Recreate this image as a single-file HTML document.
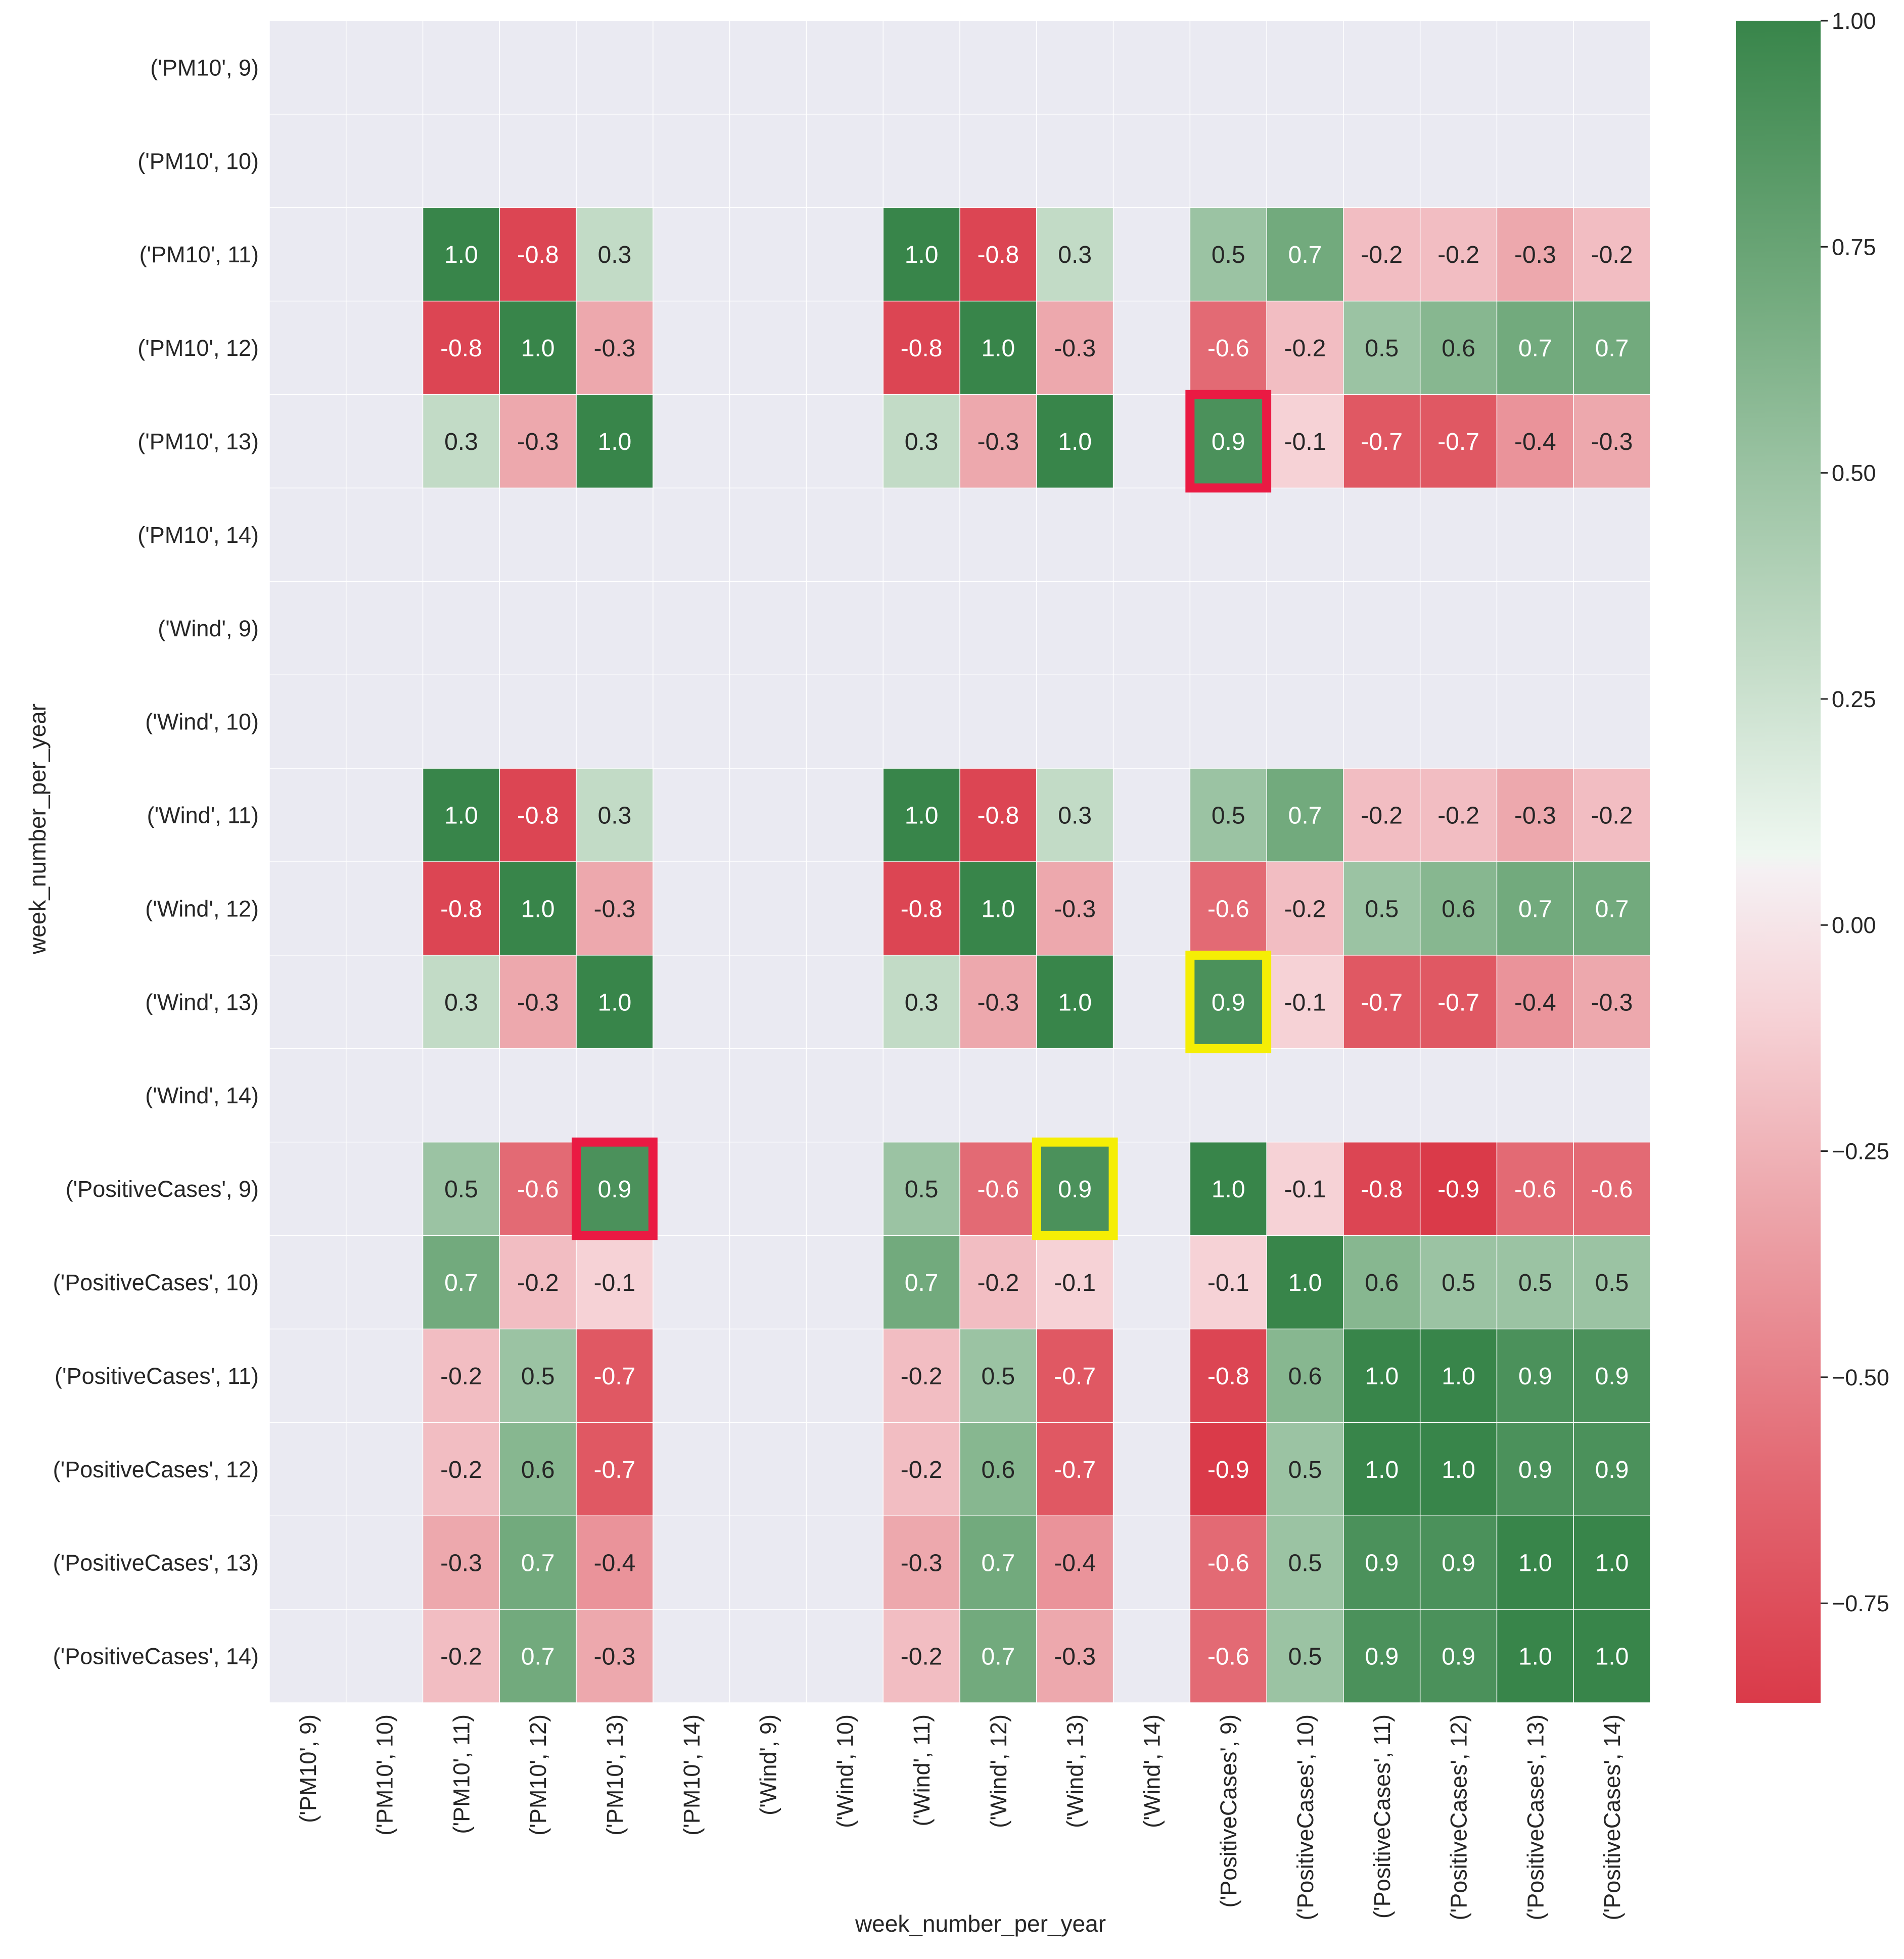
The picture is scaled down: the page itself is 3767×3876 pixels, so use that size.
<!DOCTYPE html>
<html><head><meta charset="utf-8"><style>
html,body{margin:0;padding:0;background:#fff;}
svg{display:block;font-family:"Liberation Sans",Arial,sans-serif;}
</style></head><body>
<svg id="chart" width="3767" height="3876" viewBox="0 0 3767 3876" xmlns="http://www.w3.org/2000/svg">
<g id="cells"></g>
<g id="annot"></g>
<g id="hl"></g>
<g id="ylab"></g>
<g id="xlab"></g>
<text x="0" y="0" font-size="46" fill="#262626" text-anchor="middle" transform="translate(90,1640) rotate(-90)">week_number_per_year</text>
<text x="1940" y="3822" font-size="46" fill="#262626" text-anchor="middle">week_number_per_year</text>
<defs><linearGradient id="cbgrad" x1="0" y1="1" x2="0" y2="0"></linearGradient></defs>
<rect x="3435" y="41" width="167" height="3328" fill="url(#cbgrad)"/>
<g id="cbticks"></g>
</svg>
<script>
const labels = ["('PM10', 9)","('PM10', 10)","('PM10', 11)","('PM10', 12)","('PM10', 13)","('PM10', 14)","('Wind', 9)","('Wind', 10)","('Wind', 11)","('Wind', 12)","('Wind', 13)","('Wind', 14)","('PositiveCases', 9)","('PositiveCases', 10)","('PositiveCases', 11)","('PositiveCases', 12)","('PositiveCases', 13)","('PositiveCases', 14)"];
const validIdx = [2,3,4,8,9,10,12,13,14,15,16,17];
const rowPM11 = [1.0,-0.8,0.3,1.0,-0.8,0.3,0.5,0.7,-0.2,-0.2,-0.3,-0.2];
const rowPM12 = [-0.8,1.0,-0.3,-0.8,1.0,-0.3,-0.6,-0.2,0.5,0.6,0.7,0.7];
const rowPM13 = [0.3,-0.3,1.0,0.3,-0.3,1.0,0.9,-0.1,-0.7,-0.7,-0.4,-0.3];
const rowW11 = [1.0,-0.8,0.3,1.0,-0.8,0.3,0.5,0.7,-0.2,-0.2,-0.3,-0.2];
const rowW12 = [-0.8,1.0,-0.3,-0.8,1.0,-0.3,-0.6,-0.2,0.5,0.6,0.7,0.7];
const rowW13 = [0.3,-0.3,1.0,0.3,-0.3,1.0,0.9,-0.1,-0.7,-0.7,-0.4,-0.3];
const rowPC9 = [0.5,-0.6,0.9,0.5,-0.6,0.9,1.0,-0.1,-0.8,-0.9,-0.6,-0.6];
const rowPC10 = [0.7,-0.2,-0.1,0.7,-0.2,-0.1,-0.1,1.0,0.6,0.5,0.5,0.5];
const rowPC11 = [-0.2,0.5,-0.7,-0.2,0.5,-0.7,-0.8,0.6,1.0,1.0,0.9,0.9];
const rowPC12 = [-0.2,0.6,-0.7,-0.2,0.6,-0.7,-0.9,0.5,1.0,1.0,0.9,0.9];
const rowPC13 = [-0.3,0.7,-0.4,-0.3,0.7,-0.4,-0.6,0.5,0.9,0.9,1.0,1.0];
const rowPC14 = [-0.2,0.7,-0.3,-0.2,0.7,-0.3,-0.6,0.5,0.9,0.9,1.0,1.0];
const rows = [rowPM11,rowPM12,rowPM13,rowW11,rowW12,rowW13,rowPC9,rowPC10,rowPC11,rowPC12,rowPC13,rowPC14];
const highlightsRed = [[4,12],[12,4]];
const highlightsYellow = [[10,12],[12,10]];
const cbTicks = [1.0,0.75,0.5,0.25,0.0,-0.25,-0.5,-0.75];
const vmin = -0.86, vmax = 1.0;
// colormap anchors (value -> colour)
const cmVals = [-0.86,-0.6,-0.3,-0.1,0.06,0.08,0.3,0.5,0.7,1.0];
const cmCols = [[218,58,73],[227,106,116],[237,168,173],[246,210,214],[245,240,243],[238,247,240],[194,219,198],[155,195,163],[114,170,125],[56,133,74]];

const NS = "http://www.w3.org/2000/svg";
const X0 = 533, X1 = 3265, Y0 = 41, Y1 = 3369, N = labels.length;
const cw = (X1-X0)/N, ch = (Y1-Y0)/N;
const xPos = i => X0 + i*cw;
const yPos = i => Y0 + i*ch;
const cbY = v => Y0 + (vmax - v)/(vmax - vmin)*(Y1-Y0);
function mk(tag, attrs, parent){const e=document.createElementNS(NS,tag);for(const k in attrs)e.setAttribute(k,attrs[k]);parent.appendChild(e);return e;}
function cmap(v){
 if(v<=cmVals[0])return cmCols[0];
 for(let i=1;i<cmVals.length;i++){if(v<=cmVals[i]){const f=(v-cmVals[i-1])/(cmVals[i]-cmVals[i-1]);return cmCols[i-1].map((c,k)=>Math.round(c+(cmCols[i][k]-c)*f));}}
 return cmCols[cmCols.length-1];
}
const grad=document.getElementById('cbgrad');
cmVals.forEach((v,i)=>{mk('stop',{offset:(v-vmin)/(vmax-vmin),'stop-color':`rgb(${cmCols[i].join(',')})`},grad);});
const darkText = v => v>-0.55 && v<0.65;

const gC=document.getElementById('cells'),gA=document.getElementById('annot'),gH=document.getElementById('hl');
const bg=mk('rect',{x:X0,y:Y0,width:X1-X0,height:Y1-Y0,fill:'#eaeaf2'},gC);


for(let i=0;i<=N;i++){
 const vl=mk('line',{x1:xPos(i),x2:xPos(i),y1:Y0,y2:Y1,stroke:'#fff','stroke-width':1.5},gC);
 
 
 const hl=mk('line',{y1:yPos(i),y2:yPos(i),x1:X0,x2:X1,stroke:'#fff','stroke-width':1.5},gC);
 
 
}
rows.forEach((row,ri)=>{
 const r=validIdx[ri];
 row.forEach((v,ci)=>{
  const c=validIdx[ci];
  const col=cmap(v);
  const rc=mk('rect',{x:xPos(c)+0.75,y:yPos(r)+0.75,width:cw-1.5,height:ch-1.5,fill:`rgb(${col.join(',')})`},gC);
  
  
  const tx=mk('text',{x:xPos(c)+cw/2,y:yPos(r)+ch/2+17,'font-size':48,'text-anchor':'middle',fill:darkText(v)?'#262626':'#ffffff'},gA);
  tx.textContent=v.toFixed(1);
  
  
 });
});
function box(r,c,color){
 const b=mk('rect',{x:xPos(c),y:yPos(r),width:cw,height:ch,fill:'none',stroke:color,'stroke-width':18},gH);
 
 
}
highlightsRed.forEach(p=>box(p[0],p[1],'#ea1a43'));
highlightsYellow.forEach(p=>box(p[0],p[1],'#f5ee05'));

const gY=document.getElementById('ylab'),gX=document.getElementById('xlab');
labels.forEach((l,i)=>{
 const t=mk('text',{x:512,y:yPos(i)+ch/2+16,'font-size':45,'text-anchor':'end',fill:'#262626'},gY);
 t.textContent=l;
 
 
 const cx=xPos(i)+cw/2+16;
 const u=mk('text',{x:0,y:0,'font-size':45,'text-anchor':'end',fill:'#262626',transform:`translate(${cx},3392) rotate(-90)`},gX);
 u.textContent=l;
 
 
});
const gT=document.getElementById('cbticks');
cbTicks.forEach(v=>{
 const y=cbY(v);
 const ln=mk('line',{x1:3602,x2:3616,y1:y,y2:y,stroke:'#262626','stroke-width':3},gT);
 
 
 const t=mk('text',{x:3624,y:y+16,'font-size':45,fill:'#262626'},gT);
 t.textContent=(v<0?'\u2212':'')+Math.abs(v).toFixed(2);
 
 
});
</script>
</body></html>
